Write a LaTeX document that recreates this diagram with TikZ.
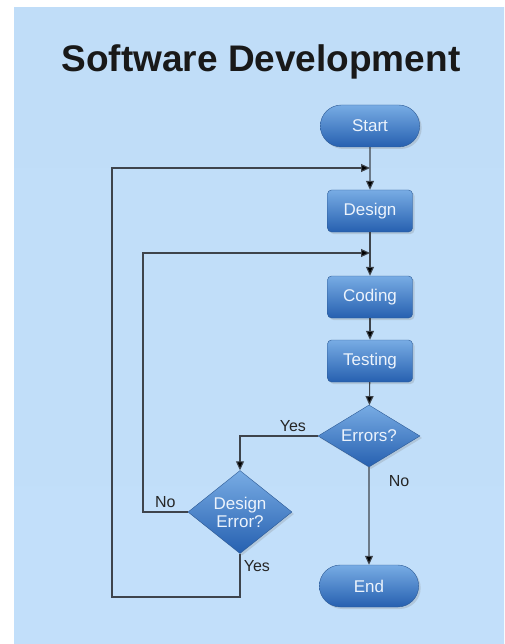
\documentclass[tikz,border=0pt]{standalone}
\usepackage{fontspec}
\setmainfont{Liberation Sans}
\usetikzlibrary{arrows.meta,shapes.geometric,shapes.misc,shadows}
\definecolor{panel top}{RGB}{192,221,248}
\definecolor{panel mid}{RGB}{234,243,252}
\definecolor{panel bottom}{RGB}{194,223,250}
\definecolor{box top}{RGB}{120,172,228}
\definecolor{box mid}{RGB}{62,128,204}
\definecolor{box bottom}{RGB}{38,96,176}
\definecolor{box border}{RGB}{44,90,150}
\definecolor{box text}{RGB}{236,243,252}
\definecolor{wire}{RGB}{62,68,76}
\tikzset{
    box shade/.style={top color=box top,middle color=box mid,bottom color=box bottom,
        draw=box border,thin,text=box text,
        drop shadow={opacity=0.25,shadow xshift=2pt,shadow yshift=-2pt},
        font=\fontsize{17}{18}\selectfont},
    process/.style={box shade,rectangle,rounded corners=4pt,minimum width=85pt,minimum height=42pt},
    terminal/.style={box shade,rounded rectangle,minimum width=106pt,minimum height=42pt},
    decision/.style={box shade,diamond,inner sep=0pt,align=center},
    arr/.style={-{Triangle[length=9pt,width=8pt,fill=black]},draw=wire,line width=1.1pt},
    label text/.style={text=black!85,font=\fontsize{16}{17}\selectfont},
}

\begin{document}
\begin{tikzpicture}[x=1pt,y=-1pt]
        \useasboundingbox (0,0) rectangle (504,644);
        \fill[white] (0,0) rectangle (504,644);
        \shade[top color=panel top,middle color=panel mid,bottom color=panel bottom]
            (14,8) rectangle (504,644);

        \node[font=\bfseries\fontsize{37}{40}\selectfont,text=black!90] (title) at (261,62) {Software Development};

        \node[terminal] (start) at (370,126) {Start};
        \node[process] (design) at (370,211) {Design};
        \node[process] (coding) at (370,297) {Coding};
        \node[process] (testing) at (370,361) {Testing};
        \node[decision,aspect=1.65,minimum width=102pt,minimum height=62pt] (errors) at (369,436) {Errors?};
        \node[decision,aspect=1.25,minimum width=104pt,minimum height=83pt] (derr) at (240,512) {Design\\Error?};
        \node[terminal] (end) at (369,586) {End};

        \coordinate (design join) at (370,168);
        \coordinate (coding join) at (370,253);

        \draw[arr] (start) -- (design);
        \draw[arr] (design) -- (coding);
        \draw[arr] (coding) -- (testing);
        \draw[arr] (testing) -- (errors);
        \draw[arr] (errors) -- node[label text,right,pos=0.14,xshift=16pt] {No} (end);
        \draw[arr] (errors.west) -| node[label text,above,pos=0.16] {Yes} (derr.north);

        % loops back up
        \draw[arr] (derr.west) -- node[label text,above] {No} (143,512) |- (coding join);
        \draw[arr] (derr.south) |- node[label text,right,pos=0.14] {Yes} (112,597) |- (design join);
    \end{tikzpicture}
\end{document}
